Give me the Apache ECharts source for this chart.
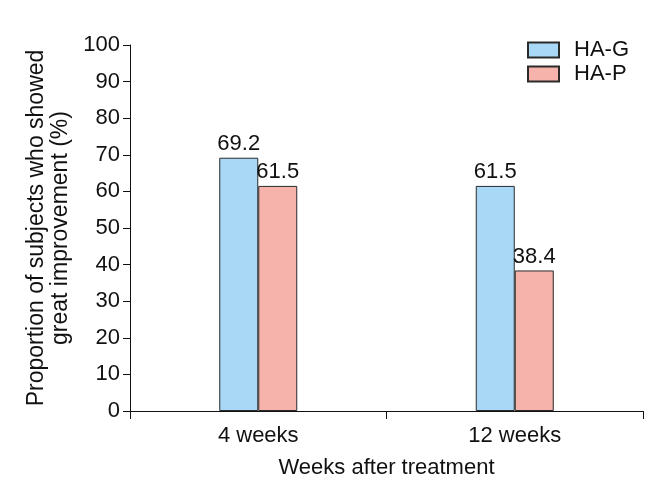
<html>
  <head>
    <meta http-equiv="Content-Type" content="text/html; charset=utf-8" />
    <script src="https://cdn.jsdelivr.net/npm/echarts@6/dist/echarts.min.js"></script>
  </head>
  <body style="margin:0">
    <div id="main" style="width: 665px;height:496px;"></div>
    <script type="text/javascript">
var categories = ['4 weeks', '12 weeks'];
var seriesNames = ['HA-G', 'HA-P'];
var haG = [69.2, 61.5];
var haP = [61.5, 38.4];
var yTicks = [0, 10, 20, 30, 40, 50, 60, 70, 80, 90, 100];

var myChart = echarts.init(document.getElementById('main'));
var font = 'Liberation Sans, Arial, sans-serif';
var labelStyle = { show: true, position: 'top', color: '#111', fontSize: 22, fontFamily: font, distance: 3 };

var option = {
  animation: false,
  textStyle: { fontFamily: font },
  grid: { left: 130, right: 22, top: 45, bottom: 85 },
  legend: {
    orient: 'vertical',
    right: 31,
    top: 34,
    icon: 'rect',
    itemWidth: 31,
    itemHeight: 15,
    itemGap: 2,
    textStyle: { fontSize: 22, color: '#111', fontFamily: font, padding: [0, 0, 0, 10] },
    data: seriesNames
  },
  xAxis: {
    type: 'category',
    data: categories,
    name: 'Weeks after treatment',
    nameLocation: 'middle',
    nameGap: 46,
    nameTextStyle: { fontSize: 22, color: '#111' },
    axisLine: { lineStyle: { color: '#111', width: 1 } },
    axisTick: { show: true, length: 8, lineStyle: { color: '#111' } },
    axisLabel: { fontSize: 22, color: '#111', margin: 14 }
  },
  yAxis: {
    type: 'value',
    min: yTicks[0],
    max: yTicks[yTicks.length - 1],
    interval: 10,
    name: 'Proportion of subjects who showed\ngreat improvement (%)',
    nameLocation: 'middle',
    nameGap: 56,
    nameTextStyle: { fontSize: 23, color: '#111', lineHeight: 24 },
    axisLine: { show: true, lineStyle: { color: '#111', width: 1 } },
    axisTick: { show: true, length: 7, lineStyle: { color: '#111' } },
    axisLabel: { fontSize: 22, color: '#111', margin: 10 },
    splitLine: { show: false }
  },
  series: [
    {
      name: seriesNames[0],
      type: 'bar',
      data: haG,
      barWidth: 39,
      barGap: '0%',
      itemStyle: { color: '#a8d8f5', borderColor: '#2a2a2a', borderWidth: 1 },
      label: labelStyle
    },
    {
      name: seriesNames[1],
      type: 'bar',
      data: haP,
      barWidth: 39,
      barGap: '0%',
      itemStyle: { color: '#f5b3ab', borderColor: '#2a2a2a', borderWidth: 1 },
      label: labelStyle
    }
  ]
};

myChart.setOption(option);
    </script>
  </body>
</html>
